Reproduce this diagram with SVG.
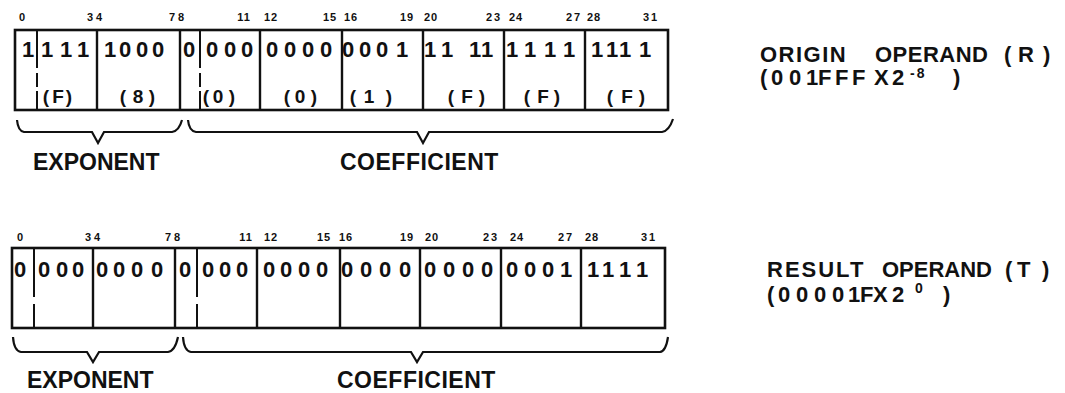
<svg xmlns="http://www.w3.org/2000/svg" width="1065" height="393" viewBox="0 0 1065 393">
<style>
text{font-family:"Liberation Sans",Arial,sans-serif;font-weight:bold;fill:#111}
.bit{font-size:11px;text-anchor:middle}
.dig{font-size:22px;text-anchor:middle}
.hex{font-size:19px;text-anchor:middle}
.cap{font-size:23px}
.ttl{font-size:22px;letter-spacing:2px}
.sup{font-size:14px}
.box{fill:#fff;stroke:#111;stroke-width:2.6}
.div{stroke:#111;stroke-width:2.4;fill:none}
.sub1{stroke:#111;stroke-width:2;stroke-dasharray:38 5 14 4 40}
.sub2{stroke:#111;stroke-width:2;stroke-dasharray:49 7 30}
.brace{fill:none;stroke:#111;stroke-width:2.2;stroke-linejoin:miter}
</style>
<rect width="1065" height="393" fill="#fff"/>

<g id="origin-register">
<rect class="box" x="15" y="30" width="653" height="80"/>
<path class="div" d="M97,30V110M180,30V110M260,30V110M342,30V110M423,30V110M504,30V110M585,30V110"/>
<line class="sub1" x1="37" y1="30" x2="37" y2="110"/>
<line class="sub1" x1="200" y1="30" x2="200" y2="110"/>
<g class="bits">
<text class="bit" x="22" y="21">0</text>
<text class="bit" x="96" y="21" letter-spacing="3">34</text>
<text class="bit" x="178" y="21" letter-spacing="3">78</text>
<text class="bit" x="244" y="21" letter-spacing="1">11</text>
<text class="bit" x="271" y="21" letter-spacing="1">12</text>
<text class="bit" x="330" y="21" letter-spacing="1">15</text>
<text class="bit" x="351" y="21" letter-spacing="1">16</text>
<text class="bit" x="407" y="21" letter-spacing="1">19</text>
<text class="bit" x="431" y="21" letter-spacing="1">20</text>
<text class="bit" x="494" y="21" letter-spacing="2">23</text>
<text class="bit" x="516" y="21" letter-spacing="1">24</text>
<text class="bit" x="574" y="21" letter-spacing="2">27</text>
<text class="bit" x="594" y="21" letter-spacing="1">28</text>
<text class="bit" x="651" y="21" letter-spacing="2">31</text>
</g>
<text class="dig" x="28 47 66 83" y="57">1111</text>
<text class="dig" x="110 125 142 158" y="57">1000</text>
<text class="dig" x="189 212 230 247" y="57">0000</text>
<text class="dig" x="272 290 308 326" y="57">0000</text>
<text class="dig" x="348 365 382 402" y="57">0001</text>
<text class="dig" x="430 447 475 487" y="57">1111</text>
<text class="dig" x="512 530 550 569" y="57">1111</text>
<text class="dig" x="597 612 625 645" y="57">1111</text>
<text class="hex" x="46 58 69" y="103">(F)</text>
<text class="hex" x="123 138 152" y="103">(8)</text>
<text class="hex" x="206 218 232" y="103">(0)</text>
<text class="hex" x="287 300 314" y="103">(0)</text>
<text class="hex" x="353 369 389" y="103">(1)</text>
<text class="hex" x="451 467 482" y="103">(F)</text>
<text class="hex" x="527 543 557" y="103">(F)</text>
<text class="hex" x="610 627 642" y="103">(F)</text>
</g>

<g id="origin-fields">
<path class="brace" d="M17,120Q18,131 24,132L92,132L98,143L104,132L172,132Q179,131 182,120"/>
<path class="brace" d="M188,120Q189,131 196,132L417,132L423,143L429,132L662,132Q669,131 673,119"/>
<text class="cap" x="33" y="170">EXPONENT</text>
<text class="cap" x="340" y="170" letter-spacing="0.5">COEFFICIENT</text>
</g>

<g id="origin-label">
<text class="ttl" y="62"><tspan x="760" letter-spacing="1.5">ORIGIN </tspan><tspan x="875" letter-spacing="0.5">OPERAND </tspan><tspan x="1004 1018 1043" letter-spacing="0">(R)</tspan></text>
<text class="ttl" y="85" letter-spacing="0"><tspan x="760 771 789 806 818 835 852 874 892">(001FFFX2</tspan><tspan class="sup" x="910" y="78">-8</tspan><tspan x="953" y="85">)</tspan></text>
</g>

<g id="result-register">
<rect class="box" x="12" y="248" width="653" height="80"/>
<path class="div" d="M93,248V328M175,248V328M257,248V328M340,248V328M420,248V328M501,248V328M581,248V328"/>
<line class="sub2" x1="34" y1="248" x2="34" y2="328"/>
<line class="sub2" x1="197" y1="248" x2="197" y2="328"/>
<g class="bits">
<text class="bit" x="20" y="241">0</text>
<text class="bit" x="94" y="241" letter-spacing="3">34</text>
<text class="bit" x="174" y="241" letter-spacing="3">78</text>
<text class="bit" x="246" y="241" letter-spacing="1">11</text>
<text class="bit" x="271" y="241" letter-spacing="1">12</text>
<text class="bit" x="324" y="241" letter-spacing="1">15</text>
<text class="bit" x="346" y="241" letter-spacing="1">16</text>
<text class="bit" x="407" y="241" letter-spacing="1">19</text>
<text class="bit" x="432" y="241" letter-spacing="1">20</text>
<text class="bit" x="491" y="241" letter-spacing="2">23</text>
<text class="bit" x="517" y="241" letter-spacing="1">24</text>
<text class="bit" x="566" y="241" letter-spacing="2">27</text>
<text class="bit" x="592" y="241" letter-spacing="1">28</text>
<text class="bit" x="649" y="241" letter-spacing="2">31</text>
</g>
<text class="dig" x="20 44 62 78" y="277">0000</text>
<text class="dig" x="102 119 137 157" y="277">0000</text>
<text class="dig" x="185 208 225 242" y="277">0000</text>
<text class="dig" x="269 286 304 322" y="277">0000</text>
<text class="dig" x="347 366 385 405" y="277">0000</text>
<text class="dig" x="430 449 468 487" y="277">0000</text>
<text class="dig" x="512 530 548 566" y="277">0001</text>
<text class="dig" x="593 608 625 642" y="277">1111</text>
</g>

<g id="result-fields">
<path class="brace" d="M13,337Q14,351 21,352L87,352L93,362L99,352L168,352Q175,351 178,337"/>
<path class="brace" d="M183,337Q184,351 191,352L411,352L417,362L423,352L660,352Q666,351 668,337"/>
<text class="cap" x="27" y="388">EXPONENT</text>
<text class="cap" x="337" y="388" letter-spacing="0.5">COEFFICIENT</text>
</g>

<g id="result-label">
<text class="ttl" y="277"><tspan x="767">RESULT </tspan><tspan x="882" letter-spacing="0">OPERAND </tspan><tspan x="1005 1017 1042" letter-spacing="0">(T)</tspan></text>
<text class="ttl" y="302" letter-spacing="0"><tspan x="767 778 796 814 832 848 860 873 892">(00001FX2</tspan><tspan class="sup" x="915" y="293">0</tspan><tspan x="943" y="302">)</tspan></text>
</g>
</svg>
